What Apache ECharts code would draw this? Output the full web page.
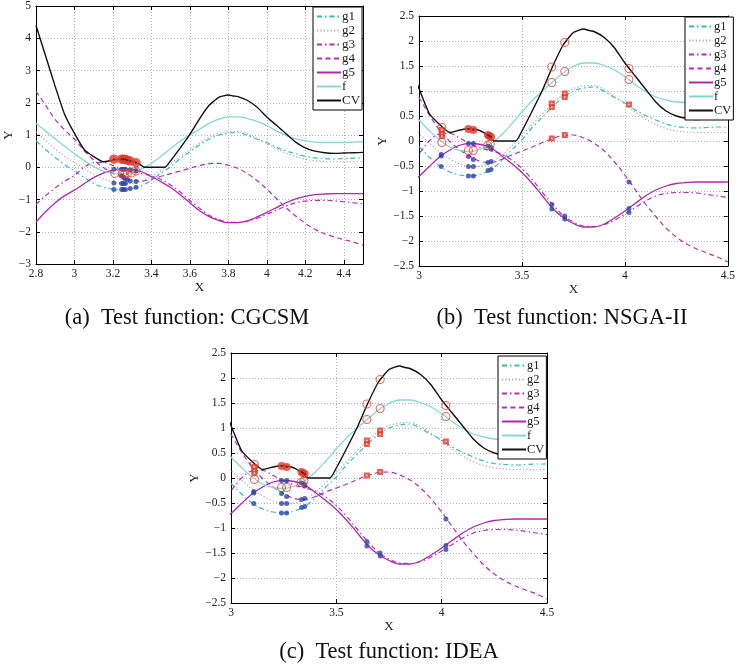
<!DOCTYPE html>
<html>
<head>
<meta charset="utf-8">
<script src="https://cdn.jsdelivr.net/npm/echarts@6/dist/echarts.min.js"></script>
<style>
html, body { margin: 0; padding: 0; background: #fff; }
#chart { width: 738px; height: 667px; }
</style>
</head>
<body>
<div id="chart"></div>
<script>
// Sample positions shared by the smooth curves
const xs = [2.80, 2.85, 2.90, 2.95, 3.00, 3.05, 3.10, 3.15, 3.20, 3.25, 3.30, 3.35,
            3.40, 3.45, 3.50, 3.55, 3.60, 3.65, 3.70, 3.75, 3.80, 3.85, 3.90, 3.95,
            4.00, 4.05, 4.10, 4.15, 4.20, 4.25, 4.30, 4.35, 4.40, 4.45, 4.50];

const g1 = [0.82, 0.55, 0.30, 0.08, -0.11, -0.32, -0.50, -0.62, -0.68, -0.70, -0.66, -0.57,
            -0.40, -0.18, 0.02, 0.27, 0.48, 0.69, 0.87, 1.00, 1.06, 1.08, 0.99, 0.87,
            0.76, 0.62, 0.51, 0.42, 0.34, 0.29, 0.27, 0.26, 0.27, 0.28, 0.28];
const g2 = [1.10, 0.82, 0.56, 0.34, 0.15, -0.04, -0.22, -0.36, -0.46, -0.51, -0.50, -0.43,
            -0.29, -0.10, 0.11, 0.33, 0.55, 0.75, 0.93, 1.05, 1.10, 1.11, 1.03, 0.89,
            0.74, 0.58, 0.44, 0.33, 0.25, 0.20, 0.18, 0.17, 0.17, 0.17, 0.17];
const g3 = [-1.15, -0.88, -0.64, -0.43, -0.25, 0.00, 0.14, 0.15, 0.05, -0.06, -0.14, -0.20,
            -0.26, -0.38, -0.55, -0.77, -1.03, -1.27, -1.49, -1.62, -1.70, -1.71, -1.67, -1.58,
            -1.46, -1.33, -1.20, -1.10, -1.05, -1.03, -1.03, -1.04, -1.07, -1.10, -1.13];
const g4 = [2.36, 1.92, 1.48, 1.15, 0.87, 0.52, 0.22, -0.01, -0.18, -0.31, -0.41, -0.43,
            -0.37, -0.28, -0.20, -0.12, -0.03, 0.05, 0.11, 0.12, 0.06, -0.04, -0.20, -0.42,
            -0.68, -0.97, -1.26, -1.51, -1.74, -1.92, -2.06, -2.16, -2.24, -2.32, -2.42];
const g5 = [-1.70, -1.38, -1.10, -0.88, -0.71, -0.51, -0.32, -0.18, -0.08, -0.05, -0.07, -0.14,
            -0.29, -0.45, -0.63, -0.85, -1.10, -1.35, -1.53, -1.65, -1.72, -1.72, -1.66, -1.54,
            -1.40, -1.25, -1.10, -0.98, -0.90, -0.85, -0.83, -0.82, -0.82, -0.82, -0.82];
const fv = [1.36, 1.12, 0.88, 0.64, 0.42, 0.21, 0.02, -0.12, -0.19, -0.21, -0.16, -0.05,
            0.12, 0.34, 0.58, 0.81, 1.00, 1.18, 1.36, 1.49, 1.56, 1.56, 1.51, 1.42,
            1.29, 1.13, 0.99, 0.88, 0.82, 0.78, 0.77, 0.77, 0.77, 0.78, 0.79];

// Constraint violation curve (has a flat zero stretch, so its own x samples)
const cvX = [2.80, 2.85, 2.90, 2.95, 3.00, 3.05, 3.10, 3.15, 3.20, 3.25, 3.30, 3.335, 3.365,
             3.47, 3.50, 3.55, 3.60, 3.65, 3.70, 3.75, 3.80, 3.825, 3.85, 3.90, 3.95, 4.00,
             4.05, 4.10, 4.15, 4.20, 4.25, 4.30, 4.35, 4.40, 4.45, 4.50];
const cvY = [4.40, 3.45, 2.50, 1.62, 1.05, 0.55, 0.33, 0.17, 0.22, 0.25, 0.20, 0.11, 0.00,
             0.00, 0.20, 0.60, 1.02, 1.50, 1.92, 2.17, 2.24, 2.21, 2.19, 2.07, 1.86, 1.56,
             1.30, 1.04, 0.78, 0.60, 0.50, 0.45, 0.43, 0.44, 0.45, 0.46];

// Population points, CGCSM run
const aBlue = [[3.205, -0.06], [3.205, -0.49], [3.205, -0.69], [3.245, -0.06], [3.255, -0.06],
               [3.265, -0.06], [3.245, -0.27], [3.255, -0.31], [3.262, -0.35], [3.245, -0.50],
               [3.255, -0.50], [3.265, -0.50], [3.245, -0.69], [3.255, -0.69], [3.265, -0.69],
               [3.275, -0.38], [3.29, -0.08], [3.29, -0.43], [3.29, -0.66], [3.32, -0.10],
               [3.32, -0.44], [3.32, -0.62]];
const aRing = [[3.21, -0.19], [3.25, -0.19], [3.262, -0.20], [3.275, -0.19], [3.295, -0.18], [3.32, -0.12]];
const aDot = [[3.205, 0.25], [3.245, 0.25], [3.255, 0.25], [3.265, 0.24], [3.275, 0.22], [3.29, 0.19], [3.32, 0.14]];

// Population points, NSGA-II and IDEA runs
const bBlue = [[3.108, -0.27], [3.108, -0.30], [3.108, -0.51], [3.24, -0.05], [3.24, -0.31],
               [3.24, -0.51], [3.24, -0.70], [3.264, -0.05], [3.264, -0.37], [3.264, -0.51],
               [3.264, -0.70], [3.335, -0.10], [3.335, -0.43], [3.335, -0.59], [3.35, -0.13],
               [3.35, -0.16], [3.35, -0.41], [3.35, -0.57], [3.645, -1.27], [3.645, -1.36],
               [3.708, -1.50], [3.708, -1.56], [4.02, -0.82], [4.02, -1.35], [4.02, -1.43]];
const bRing = [[3.111, 0.27], [3.111, -0.03], [3.24, -0.19], [3.264, -0.19], [3.333, -0.09],
               [3.346, -0.06], [3.645, 1.48], [3.645, 1.17], [3.708, 1.97], [3.708, 1.39],
               [4.02, 1.45], [4.02, 1.23]];
const bDot = [[3.24, 0.24], [3.264, 0.22], [3.335, 0.12], [3.342, 0.10], [3.35, 0.08]];
const bSquare = [[3.111, 0.22], [3.111, 0.15], [3.111, 0.10], [3.645, 0.75], [3.645, 0.68],
                 [3.645, 0.05], [3.708, 0.95], [3.708, 0.88], [3.708, 0.12], [4.02, 0.73]];

const names = ['g1', 'g2', 'g3', 'g4', 'g5', 'f', 'CV'];
const curveValues = { g1: g1, g2: g2, g3: g3, g4: g4, g5: g5, f: fv };
const captions = ['(a)  Test function: CGCSM', '(b)  Test function: NSGA-II', '(c)  Test function: IDEA'];

const SERIF = '"Liberation Serif", "Times New Roman", serif';
const lineLook = {
  g1: { color: '#2ebdbd', type: [5, 3, 1.5, 3], width: 1.2 },
  g2: { color: '#a9a9a9', type: [1.2, 2.2], width: 1.2 },
  g3: { color: '#b52fb5', type: [5, 3, 1.5, 3], width: 1.2 },
  g4: { color: '#b52fb5', type: [5, 3.5], width: 1.2 },
  g5: { color: '#ad2aad', type: 'solid', width: 1.3 },
  f:  { color: '#88d8d2', type: 'solid', width: 1.3 },
  CV: { color: '#111111', type: 'solid', width: 1.4 }
};

const panels = [
  { left: 36, top: 5, width: 327, height: 259, xMin: 2.8, xMax: 4.5, xInt: 0.2,
    yMin: -3, yMax: 5, yInt: 1, yGap: 20, xGap: 16, showMax: false,
    legend: { left: 313, top: 7, font: 13 }, blue: aBlue, ring: aRing, dot: aDot, square: [],
    dotSize: 9.5, cap: [187, 318] },
  { left: 419, top: 16, width: 314, height: 250, xMin: 3, xMax: 4.5, xInt: 0.5,
    yMin: -2.5, yMax: 2.5, yInt: 0.5, yGap: 30, xGap: 15, showMax: true,
    legend: { left: 685, top: 17, font: 12.5 }, blue: bBlue, ring: bRing, dot: bDot, square: bSquare,
    dotSize: 8, cap: [562, 318] },
  { left: 231, top: 353, width: 316, height: 250, xMin: 3, xMax: 4.5, xInt: 0.5,
    yMin: -2.5, yMax: 2.5, yInt: 0.5, yGap: 28, xGap: 15, showMax: true,
    legend: { left: 498, top: 356, font: 12.5 }, blue: bBlue, ring: bRing, dot: bDot, square: bSquare,
    dotSize: 8, cap: [389, 652] }
];

const fmt = v => String(Math.round(v * 10) / 10).replace('-', '\u2212');

const grid = [], xAxis = [], yAxis = [], series = [], legend = [], graphic = [];

panels.forEach((p, i) => {
  grid.push({ left: p.left, top: p.top, width: p.width, height: p.height, show: false });
  const common = {
    type: 'value', gridIndex: i,
    axisLine: { show: true, onZero: false, lineStyle: { color: '#000', width: 1 } },
    axisTick: { show: true, inside: true, length: 4, lineStyle: { color: '#000' } }
  };
  // bottom / top x axes
  xAxis.push(Object.assign({}, common, {
    position: 'bottom', min: p.xMin, max: p.xMax, interval: p.xInt,
    name: 'X', nameLocation: 'middle', nameGap: p.xGap,
    nameTextStyle: { fontFamily: SERIF, fontSize: 13, color: '#222' },
    axisLabel: { fontFamily: SERIF, fontSize: 11.5, color: '#222', margin: 4,
                 formatter: fmt, showMaxLabel: p.showMax },
    splitLine: { show: true, lineStyle: { color: '#b5b5b5', type: [1, 2], width: 1 } }
  }));
  xAxis.push(Object.assign({}, common, {
    position: 'top', min: p.xMin, max: p.xMax, interval: p.xInt,
    axisLabel: { show: false }, splitLine: { show: false }
  }));
  // left / right y axes
  yAxis.push(Object.assign({}, common, {
    position: 'left', min: p.yMin, max: p.yMax, interval: p.yInt,
    name: 'Y', nameLocation: 'middle', nameGap: p.yGap,
    nameTextStyle: { fontFamily: SERIF, fontSize: 13, color: '#222' },
    axisLabel: { fontFamily: SERIF, fontSize: 11.5, color: '#222', margin: 5, formatter: fmt },
    splitLine: { show: true, lineStyle: { color: '#b5b5b5', type: [1, 2], width: 1 } }
  }));
  yAxis.push(Object.assign({}, common, {
    position: 'right', min: p.yMin, max: p.yMax, interval: p.yInt,
    axisLabel: { show: false }, splitLine: { show: false }
  }));

  const xi = i * 2, yi = i * 2;
  names.forEach(n => {
    const data = n === 'CV'
      ? cvX.map((x, k) => [x, cvY[k]])
      : xs.map((x, k) => [x, curveValues[n][k]]);
    series.push({
      name: n, type: 'line', xAxisIndex: xi, yAxisIndex: yi, data: data,
      symbol: 'none', smooth: n === 'CV' ? 0.15 : 0.35, clip: true,
      lineStyle: lineLook[n], itemStyle: { color: lineLook[n].color },
      z: 2, animation: false
    });
  });

  // satisfied constraint values
  series.push({ name: 'sat', type: 'scatter', xAxisIndex: xi, yAxisIndex: yi, data: p.blue,
    symbol: 'circle', symbolSize: 5, itemStyle: { color: '#2d44a8' }, z: 4, animation: false });
  // violated constraint values
  if (p.square.length) {
    series.push({ name: 'vio', type: 'scatter', xAxisIndex: xi, yAxisIndex: yi, data: p.square,
      symbol: 'rect', symbolSize: 6, itemStyle: { color: '#e23a2c' }, z: 4, animation: false });
    series.push({ name: 'vioc', type: 'scatter', xAxisIndex: xi, yAxisIndex: yi, data: p.square,
      symbol: 'rect', symbolSize: 1.5, itemStyle: { color: '#ffffff' }, z: 5, animation: false });
  }
  // objective values
  series.push({ name: 'obj', type: 'scatter', xAxisIndex: xi, yAxisIndex: yi, data: p.ring,
    symbol: 'circle', symbolSize: 8,
    itemStyle: { color: 'rgba(255,255,255,0)', borderColor: '#e6402f', borderWidth: 1.1 },
    z: 4, animation: false });
  // constraint violation values
  series.push({ name: 'cvp', type: 'scatter', xAxisIndex: xi, yAxisIndex: yi, data: p.dot,
    symbol: 'circle', symbolSize: p.dotSize, itemStyle: { color: '#e23a2c' }, z: 4, animation: false });
  series.push({ name: 'cvc', type: 'scatter', xAxisIndex: xi, yAxisIndex: yi, data: p.dot,
    symbol: 'circle', symbolSize: 2, itemStyle: { color: '#222' }, z: 5, animation: false });

  legend.push({
    orient: 'vertical', left: p.legend.left, top: p.legend.top, data: names,
    backgroundColor: '#fff', borderColor: '#000', borderWidth: 1,
    padding: [3, 2, 3, 3], itemGap: 1, itemWidth: 24, itemHeight: 10,
    itemStyle: { opacity: 0 },
    textStyle: { fontFamily: SERIF, fontSize: p.legend.font, color: '#222', padding: [0, 0, 0, -4] },
    selectedMode: false, z: 10
  });

  graphic.push({
    type: 'text', x: p.cap[0], y: p.cap[1],
    style: { text: captions[i], font: '22.5px ' + SERIF, fill: '#111',
             align: 'center', verticalAlign: 'middle' }
  });
});

const chart = echarts.init(document.getElementById('chart'), null, { renderer: 'canvas' });
chart.setOption({
  backgroundColor: '#fff',
  animation: false,
  grid: grid, xAxis: xAxis, yAxis: yAxis, series: series, legend: legend, graphic: graphic
});
</script>
</body>
</html>
